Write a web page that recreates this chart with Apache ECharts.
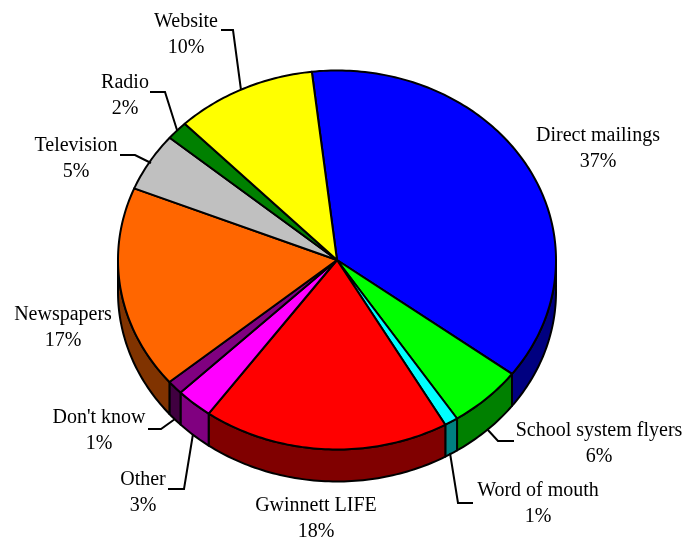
<!DOCTYPE html>
<html>
<head>
<meta charset="utf-8">
<style>
html, body { margin: 0; padding: 0; background: #fff; }
#pie3d { width: 683px; height: 538px; }
</style>
<script src="https://cdn.jsdelivr.net/npm/echarts@6/dist/echarts.min.js"></script>
</head>
<body>
<div id="pie3d"></div>
<script>
// values, labels show them rounded
var categories = ['Direct mailings', 'School system flyers', 'Word of mouth', 'Gwinnett LIFE', 'Other', "Don't know", 'Newspapers', 'Television', 'Radio', 'Website'];
var shares = [37.1, 5.5, 1, 18.2, 2.7, 1.2, 17.3, 5, 1.6, 10.4];

var topColors = ['#0000ff', '#00ff00', '#00ffff', '#ff0000', '#ff00ff', '#800080', '#ff6600', '#c0c0c0', '#008000', '#ffff00'];
var sideColors = ['#000080', '#008000', '#008080', '#800000', '#800080', '#400040', '#803300', '#606060', '#004000', '#808000'];

// pie shape
var cx = 337, cy = 260, rx = 219, ry = 189.5, depth = 32, startDeg = -6.6;

// label centre and leader line, same order as categories
var labelPos = [
    { x: 598, y: 149 },
    { x: 599, y: 444, leader: [[514, 441], [498, 441], [487, 429]] },
    { x: 538, y: 504, leader: [[473, 503], [458, 503], [450, 453]] },
    { x: 316, y: 519 },
    { x: 143, y: 493, leader: [[168, 489], [184, 489], [193, 434]] },
    { x: 99, y: 431, leader: [[148, 429], [161, 429], [175, 419]] },
    { x: 63, y: 328 },
    { x: 76, y: 159, leader: [[120, 155], [135, 155], [151, 163]] },
    { x: 125, y: 96, leader: [[150, 92], [165, 92], [177, 130]] },
    { x: 186, y: 35, leader: [[221, 30], [233, 30], [241, 90]] }
];

var total = shares.reduce(function (a, b) { return a + b; }, 0);

function sliceRange(i) {
    var before = 0;
    for (var k = 0; k < i; k++) before += shares[k];
    return [startDeg + before / total * 360, startDeg + (before + shares[i]) / total * 360];
}

function rimPoint(deg, drop) {
    var t = deg * Math.PI / 180;
    return [cx + rx * Math.sin(t), cy - ry * Math.cos(t) + (drop || 0)];
}

function arcPoints(a, b, drop) {
    var pts = [];
    var steps = Math.max(2, Math.ceil(Math.abs(b - a)));
    for (var s = 0; s <= steps; s++) {
        pts.push(rimPoint(a + (b - a) * s / steps, drop));
    }
    return pts;
}

function renderSide(params, api) {
    var i = params.dataIndex;
    var r = sliceRange(i);
    // only the front half of the rim shows
    var a = Math.max(r[0], 90), b = Math.min(r[1], 270);
    if (a >= b) return { type: 'group', children: [] };
    var pts = arcPoints(a, b, 0).concat(arcPoints(b, a, depth));
    return {
        type: 'polygon',
        shape: { points: pts },
        style: { fill: sideColors[i], stroke: '#000', lineWidth: 2, lineJoin: 'round' }
    };
}

function renderTop(params, api) {
    var i = params.dataIndex;
    var r = sliceRange(i);
    var pts = [[cx, cy]].concat(arcPoints(r[0], r[1], 0));
    return {
        type: 'polygon',
        shape: { points: pts },
        style: { fill: topColors[i], stroke: '#000', lineWidth: 2, lineJoin: 'round' }
    };
}

function renderLabel(params, api) {
    var i = params.dataIndex;
    var pos = labelPos[i];
    var children = [{
        type: 'text',
        style: {
            text: categories[i] + '\n' + Math.round(api.value(0)) + '%',
            x: pos.x,
            y: pos.y,
            align: 'center',
            verticalAlign: 'middle',
            fontFamily: '"Liberation Serif"',
            fontSize: 20,
            lineHeight: 26,
            fill: '#000'
        }
    }];
    if (pos.leader) {
        children.push({
            type: 'polyline',
            shape: { points: pos.leader },
            style: { fill: null, stroke: '#000', lineWidth: 2 }
        });
    }
    return { type: 'group', children: children };
}

var pieChart = echarts.init(document.getElementById('pie3d'), null, { renderer: 'canvas' });

var pieoption = {
    backgroundColor: '#fff',
    animation: false,
    series: [
        { type: 'custom', coordinateSystem: 'none', renderItem: renderSide, data: shares, silent: true, z: 1 },
        { type: 'custom', coordinateSystem: 'none', renderItem: renderTop, data: shares, silent: true, z: 2 },
        { type: 'custom', coordinateSystem: 'none', renderItem: renderLabel, data: shares, silent: true, z: 3 }
    ]
};
pieChart.setOption(pieoption);
window.onresize = pieChart.resize;
</script>
</body>
</html>
